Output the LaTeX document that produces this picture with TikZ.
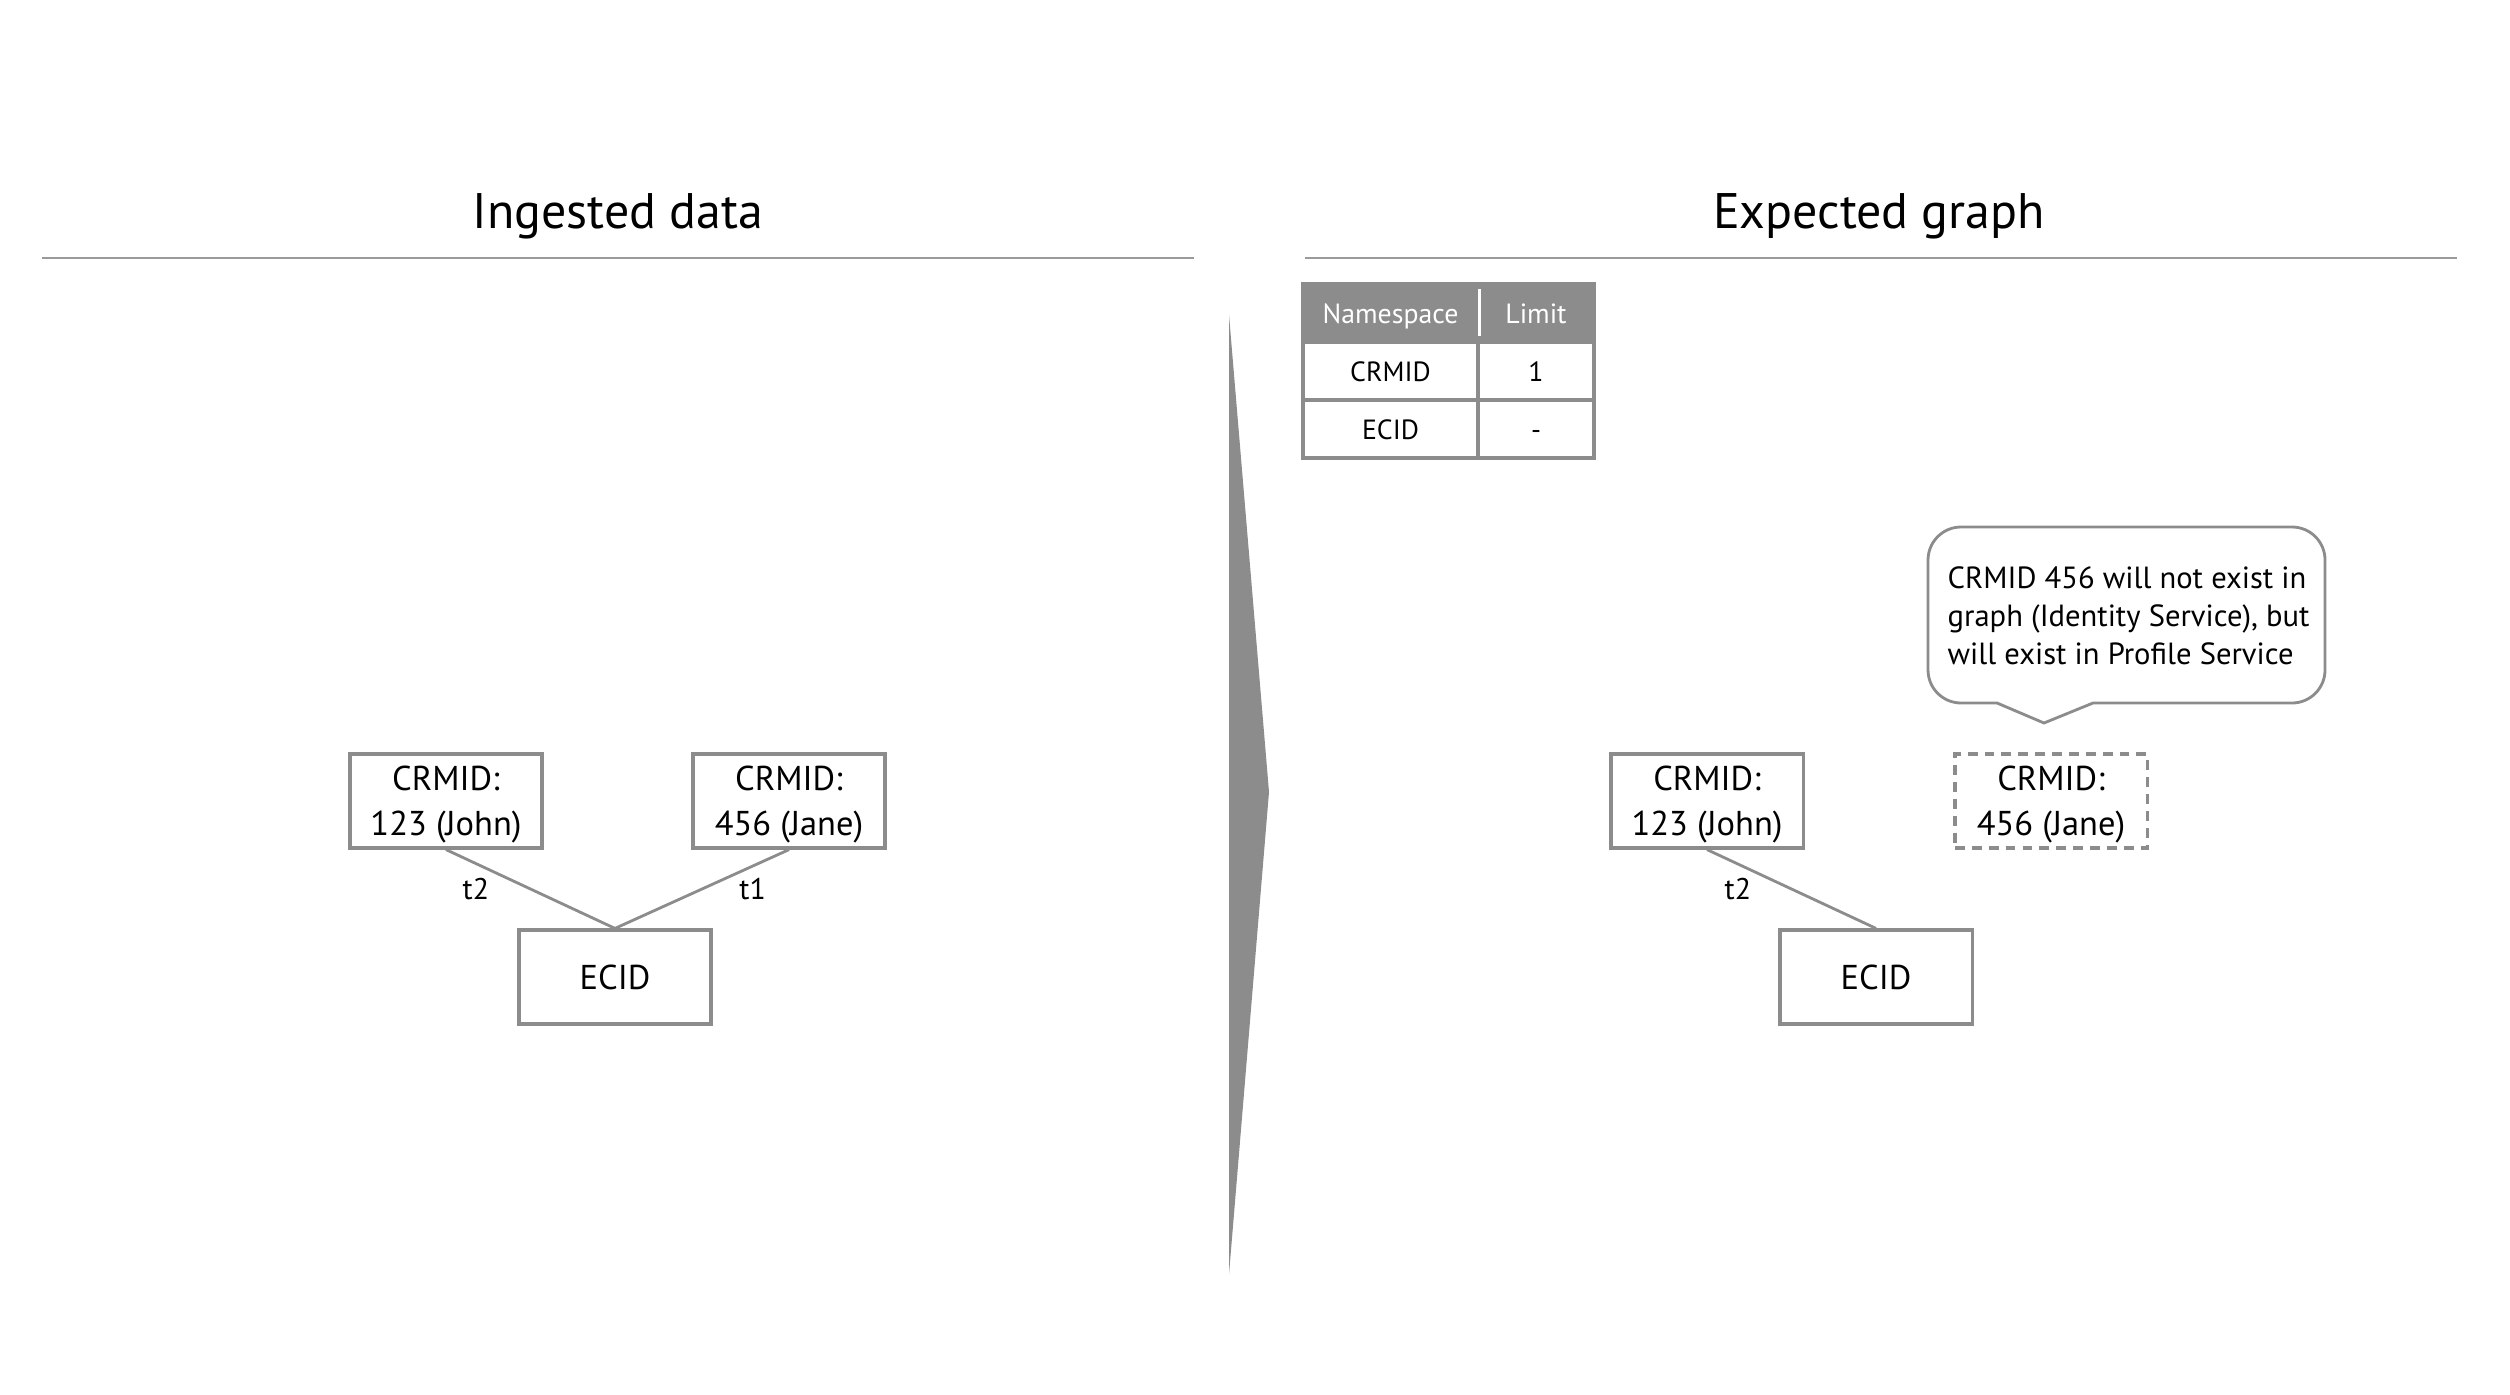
\documentclass[tikz,border=0pt]{standalone}
\usepackage{fontspec}
\setmainfont{PT Sans}
\usetikzlibrary{positioning}
\definecolor{boxgray}{HTML}{8C8C8C}
\definecolor{rulegray}{HTML}{9A9A9A}

\begin{document}
\begin{tikzpicture}[
    x=0.01cm, y=-0.01cm, % work in pixels of the original, y downwards
    idbox/.style={draw=boxgray, line width=0.9pt, minimum width=1.92cm, minimum height=0.94cm, align=center, inner sep=0pt, text depth=0pt, font=\fontsize{9.8}{12.8}\selectfont}, % identity nodes
    ghostbox/.style={idbox, dash pattern=on 2.8pt off 2pt}, % identity that gets dropped
    link/.style={draw=boxgray, line width=0.8pt}, % graph edges
    edgelabel/.style={font=\fontsize{8.5}{10}\selectfont, inner sep=0pt},
    paneltitle/.style={font=\fontsize{14.2}{17}\selectfont},
    rulestyle/.style={draw=rulegray, line width=0.6pt},
    cell/.style={draw=boxgray, line width=0.9pt, minimum height=0.58cm, inner sep=0pt, text height=1.6ex, text depth=0.4ex, font=\fontsize{7.9}{9}\selectfont},
    headcell/.style={cell, fill=boxgray, text=white},
    bubble/.style={draw=boxgray, line width=0.8pt, fill=white},
    notetext/.style={align=left, inner sep=0pt, font=\fontsize{8.7}{10.8}\selectfont}
]
    \useasboundingbox (0,0) rectangle (2510,1394);

    % --- Panel titles and rules ---
    \node[paneltitle] (lefttitle) at (618,216) {Ingested data};
    \node[paneltitle] (righttitle) at (1879,216) {Expected graph};
    \draw[rulestyle] (42,258) -- (1194,258);
    \draw[rulestyle] (1305,258) -- (2457,258);

    % --- Big arrow between the panels ---
    \fill[boxgray] (1229,315) -- (1269,792) -- (1229,1274) -- cycle;

    % --- Ingested data ---
    \node[idbox] (john) at (446,801) {CRMID:\\123 (John)};
    \node[idbox] (jane) at (789,801) {CRMID:\\456 (Jane)};
    \node[idbox] (ecid) at (615,977) {ECID};
    \draw[link] (john.south) -- node[edgelabel, left=0.4cm] {t2} (ecid.north);
    \draw[link] (jane.south) -- node[edgelabel, right=0.36cm] {t1} (ecid.north);

    % --- Limits table ---
    \node[headcell, minimum width=1.75cm] (hdns) at (1390.5,312.5) {Namespace};
    \node[headcell, minimum width=1.16cm] (hdlim) at (1536,312.5) {Limit};
    \node[cell, minimum width=1.75cm] (crmns) at (1390.5,371) {CRMID};
    \node[cell, minimum width=1.16cm] (crmlim) at (1536,371) {1};
    \node[cell, minimum width=1.75cm] (ecns) at (1390.5,429) {ECID};
    \node[cell, minimum width=1.16cm] (eclim) at (1536,429) {-};
    \draw[white, line width=1pt] ([yshift=-2pt]hdns.north east) -- ([yshift=2pt]hdns.south east);

    % --- Expected graph ---
    \node[idbox] (john2) at (1707,801) {CRMID:\\123 (John)};
    \node[ghostbox] (jane2) at (2051,801) {CRMID:\\456 (Jane)};
    \node[idbox] (ecid2) at (1876,977) {ECID};
    \draw[link] (john2.south) -- node[edgelabel, left=0.39cm] {t2} (ecid2.north);

    % --- Callout ---
    \draw[bubble] (2044,723) -- (1997,703) [rounded corners=0.33cm] -- (1928,703) -- (1928,527) -- (2325,527) -- (2325,703) [sharp corners] -- (2093,703) -- cycle;
    \node[notetext, anchor=west] (note) at (1947,616) {CRMID 456 will not exist in\\graph (Identity Service), but\\will exist in Profile Service};

\end{tikzpicture}
\end{document}
